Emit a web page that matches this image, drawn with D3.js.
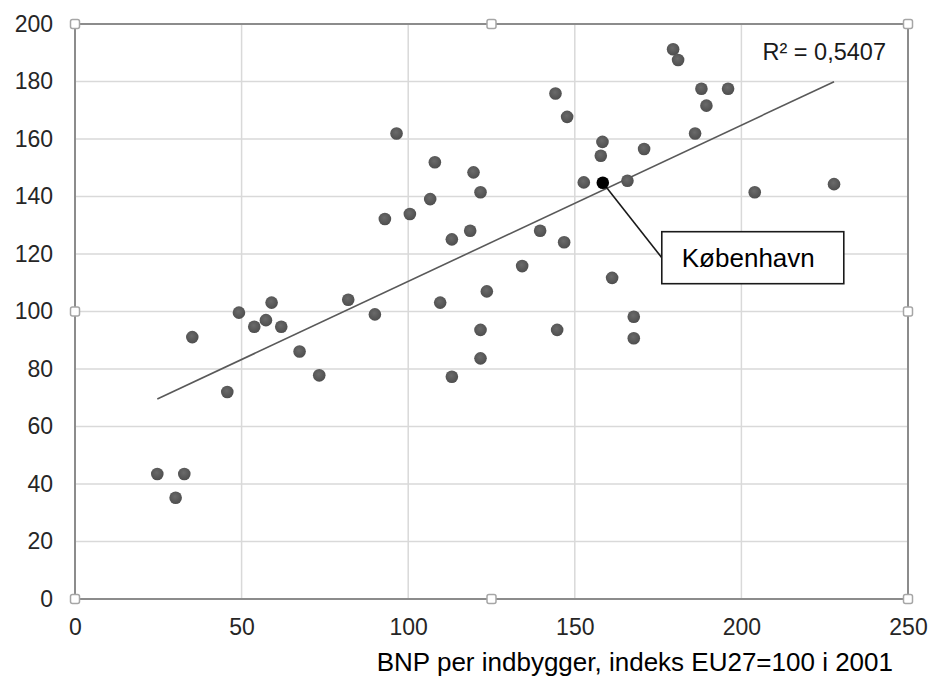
<!DOCTYPE html>
<html><head><meta charset="utf-8">
<script src="https://cdn.jsdelivr.net/npm/d3@7"></script>
<style>
html,body{margin:0;padding:0;background:#fff;}
svg{display:block;font-family:"Liberation Sans",Arial,sans-serif;}
</style></head>
<body>
<svg id="chart" width="930" height="676"></svg>
<script>
// ---- data ----
const xTicks = [0, 50, 100, 150, 200, 250];
const yTicks = [0, 20, 40, 60, 80, 100, 120, 140, 160, 180, 200];
const xTitle = "BNP per indbygger, indeks EU27=100 i 2001";
const r2Label = "R² = 0,5407";
const calloutLabel = "København";
const highlight = {x: 158.4, y: 144.8};
const bnpX = [24.7, 32.8, 30.2, 35.2, 49.2, 45.7, 53.8, 57.3, 59.0, 61.9, 67.4, 73.3,
  82.0, 90.0, 109.6, 123.6, 134.2, 121.7, 121.7, 113.1, 144.7, 161.2, 167.7, 167.7,
  96.5, 108.0, 119.6, 121.7, 106.6, 100.5, 93.0, 118.6, 113.1, 139.6, 146.8, 144.2, 147.7,
  158.3, 157.8, 152.7, 165.8,
  179.5, 181.0, 188.0, 196.0, 189.5, 186.1, 170.8, 204.0, 227.8];
const valY = [43.5, 43.5, 35.2, 91.1, 99.6, 72.0, 94.7, 97.0, 103.1, 94.7, 86.1, 77.8,
  104.1, 99.0, 103.1, 107.0, 115.8, 93.6, 83.7, 77.3, 93.6, 111.7, 98.2, 90.7,
  161.9, 151.9, 148.4, 141.5, 139.1, 133.9, 132.2, 128.1, 125.1, 128.1, 124.1, 175.8, 167.7,
  159.0, 154.2, 144.9, 145.5,
  191.2, 187.5, 177.5, 177.5, 171.6, 161.9, 156.5, 141.5, 144.3];

// ---- layout ----
const W = 930, H = 676;
const m = {left: 75, right: 22, top: 24, bottom: 77};
const svg = d3.select("#chart");
const x = d3.scaleLinear().domain([0, 250]).range([m.left, W - m.right]);
const y = d3.scaleLinear().domain([0, 200]).range([H - m.bottom, m.top]);

const pts = bnpX.map((v, i) => ({x: v, y: valY[i]}));
const all = pts.concat([highlight]);

// gridlines
svg.append("g").selectAll("line").data(yTicks.slice(1, -1)).join("line")
  .attr("x1", x(0)).attr("x2", x(250)).attr("y1", d => y(d)).attr("y2", d => y(d))
  .attr("stroke", "#d9d9d9").attr("stroke-width", 1.5);
svg.append("g").selectAll("line").data(xTicks.slice(1, -1)).join("line")
  .attr("y1", y(0)).attr("y2", y(200)).attr("x1", d => x(d)).attr("x2", d => x(d))
  .attr("stroke", "#d9d9d9").attr("stroke-width", 1.5);

// frame
svg.append("rect").attr("x", x(0)).attr("y", y(200))
  .attr("width", x(250) - x(0)).attr("height", y(0) - y(200))
  .attr("fill", "none").attr("stroke", "#8c8c8c").attr("stroke-width", 2);

// axes
const xa = svg.append("g").attr("transform", `translate(0,${y(0)})`)
  .call(d3.axisBottom(x).tickValues(xTicks).tickSize(0).tickPadding(20).tickFormat(d3.format("d")));
const ya = svg.append("g").attr("transform", `translate(${x(0)},0)`)
  .call(d3.axisLeft(y).tickValues(yTicks).tickSize(0).tickPadding(22).tickFormat(d3.format("d")));
[xa, ya].forEach(a => {
  a.select(".domain").remove();
  a.selectAll("text").attr("font-size", 23).attr("fill", "#262626")
    .attr("font-family", "Liberation Sans, Arial, sans-serif");
});

// trendline (least squares)
const mx = d3.mean(all, d => d.x), my = d3.mean(all, d => d.y);
const slope = d3.sum(all, d => (d.x - mx) * (d.y - my)) / d3.sum(all, d => (d.x - mx) ** 2);
const icpt = my - slope * mx;
const [x0, x1] = d3.extent(all, d => d.x);
svg.append("line")
  .attr("x1", x(x0)).attr("y1", y(icpt + slope * x0))
  .attr("x2", x(x1)).attr("y2", y(icpt + slope * x1))
  .attr("stroke", "#595959").attr("stroke-width", 1.6);

// points
const defs = svg.append("defs");
const g = defs.append("radialGradient").attr("id", "dot").attr("cx", "45%").attr("cy", "40%").attr("r", "60%");
g.append("stop").attr("offset", "0%").attr("stop-color", "#6a6a6a");
g.append("stop").attr("offset", "100%").attr("stop-color", "#4e4e4e");
svg.append("g").selectAll("circle").data(pts).join("circle")
  .attr("cx", d => x(d.x)).attr("cy", d => y(d.y)).attr("r", 6.3)
  .attr("fill", "url(#dot)");

// highlighted point + callout
const hx = x(highlight.x), hy = y(highlight.y);
const box = {dx: 59, dy: 49, w: 182, h: 52};
svg.append("line").attr("x1", hx).attr("y1", hy)
  .attr("x2", hx + box.dx).attr("y2", hy + box.dy + box.h / 2)
  .attr("stroke", "#1a1a1a").attr("stroke-width", 1.6);
svg.append("circle").attr("cx", hx).attr("cy", hy).attr("r", 6.3).attr("fill", "#000");
svg.append("rect").attr("x", hx + box.dx).attr("y", hy + box.dy)
  .attr("width", box.w).attr("height", box.h)
  .attr("fill", "#fff").attr("stroke", "#1a1a1a").attr("stroke-width", 1.6);
svg.append("text").attr("x", hx + box.dx + 20).attr("y", hy + box.dy + 35)
  .attr("font-size", 26).attr("fill", "#000").text(calloutLabel);

// R² label
svg.append("text").attr("x", x(250) - 22).attr("y", 60)
  .attr("text-anchor", "end").attr("font-size", 23.5).attr("fill", "#1a1a1a").text(r2Label);

// selection handles
const hxs = [0, 125, 250], hys = [0, 100, 200];
const handles = [];
hxs.forEach(a => hys.forEach(b => { if (!(a === 125 && b === 100)) handles.push([a, b]); }));
svg.append("g").selectAll("rect").data(handles).join("rect")
  .attr("x", d => x(d[0]) - 4.5).attr("y", d => y(d[1]) - 4.5)
  .attr("width", 9).attr("height", 9).attr("rx", 2)
  .attr("fill", "#fff").attr("stroke", "#a6a6a6").attr("stroke-width", 1.5);

// x title
svg.append("text").attr("x", 893).attr("y", 671).attr("text-anchor", "end")
  .attr("font-size", 26).attr("fill", "#000").text(xTitle);
</script>
</body></html>
